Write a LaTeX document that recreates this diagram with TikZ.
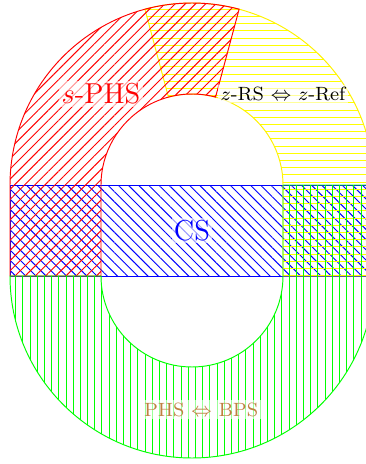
\documentclass[tikz,border=0pt]{standalone}
\usetikzlibrary{patterns,patterns.meta}
\tikzset{zone/.style={draw=#1, pattern color=#1},
  tag/.style={font=\large, fill=white, fill opacity=0.6, text opacity=1, inner sep=1pt},
  small tag/.style={tag, font=\footnotesize}}

\begin{document}
\begin{tikzpicture}[x=1.333cm, y=1.333cm]
  \useasboundingbox (-2.11,-2.566) rectangle (1.912,2.533);
  \draw[zone=blue, pattern={Lines[angle=-45, distance=3pt]}] (-2,-0.5) rectangle (2,0.5);
  \draw[zone=yellow, pattern=horizontal lines, shift={(0,0.5)}] (105:2) arc[start angle=105, end angle=0, radius=2]
    -- ++(0,-1) -- ++(-1,0) -- ++(0,1) arc[start angle=0, end angle=105, radius=1] -- cycle;
  \draw[zone=red, pattern={Lines[angle=45, distance=3pt]}, shift={(0,0.5)}] (75:2) arc[start angle=75, end angle=180, radius=2]
    -- ++(0,-1) -- ++(1,0) -- ++(0,1) arc[start angle=180, end angle=75, radius=1] -- cycle;
  \draw[zone=green, pattern=vertical lines] (-2,-0.5) -- (-1,-0.5) arc[start angle=180, end angle=360, radius=1]
    -- (1,0.5) -- (2,0.5) -- (2,-0.5) arc[start angle=0, end angle=-180, radius=2] -- cycle;
  \node[tag, text=red] (sphs) at (-1,1.5) {$s$-PHS};
  \node[tag, text=blue] (cs) at (0,0) {CS};
  \node[small tag] (zref) at (1,1.5) {$z$-RS $\Leftrightarrow$ $z$-Ref};
  \node[small tag, text=brown] (bps) at (0.1,-1.97) {PHS $\Leftrightarrow$ BPS};
\end{tikzpicture}
\end{document}
